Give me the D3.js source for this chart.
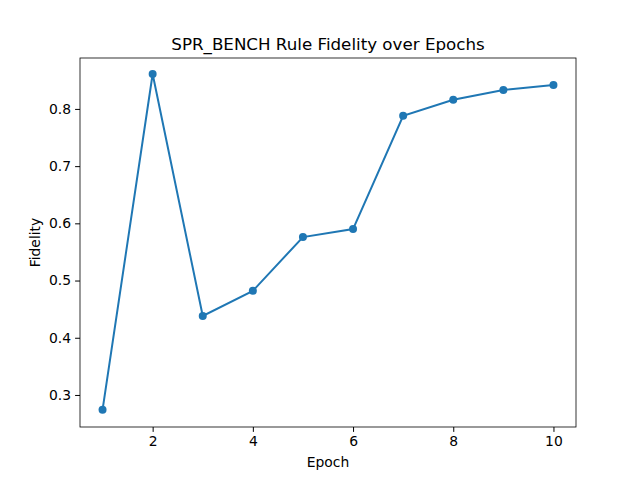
<!DOCTYPE html>
<html>
<head>
<meta charset="utf-8">
<script src="https://cdn.jsdelivr.net/npm/d3@7"></script>
<style>
  body { margin: 0; background: #fff; }
  text { font-family: "DejaVu Sans", sans-serif; }
</style>
</head>
<body>
<svg id="chart" width="640" height="480"></svg>
<script>
const epochs = [1, 2, 3, 4, 5, 6, 7, 8, 9, 10];
const fidelity = [0.274, 0.861, 0.438, 0.482, 0.576, 0.590, 0.788, 0.816, 0.833, 0.842];
const xTicks = [2, 4, 6, 8, 10];
const yTicks = [0.3, 0.4, 0.5, 0.6, 0.7, 0.8];

const margin = { top: 58, right: 64, bottom: 53, left: 80 };
const width = 640 - margin.left - margin.right;
const height = 480 - margin.top - margin.bottom;
const color = '#1f77b4';

const svg = d3.select('#chart');
const g = svg.append('g').attr('transform', `translate(${margin.left},${margin.top})`);

const x = d3.scaleLinear().domain([0.55, 10.45]).range([0, width]);
const y = d3.scaleLinear().domain([0.244, 0.889]).range([height, 0]);

// axes
const xAxis = g.append('g')
  .attr('transform', `translate(0,${height})`)
  .call(d3.axisBottom(x).tickValues(xTicks).tickFormat(d3.format('d')).tickSizeOuter(0).tickSize(4.9).tickPadding(4));
const yAxis = g.append('g')
  .call(d3.axisLeft(y).tickValues(yTicks).tickFormat(d3.format('.1f')).tickSizeOuter(0).tickSize(4.9).tickPadding(4));
[xAxis, yAxis].forEach((a) => {
  a.select('.domain').remove();
  a.selectAll('text').attr('font-size', 13.9).attr('fill', '#000').style('font-family', 'DejaVu Sans');
  a.selectAll('line').attr('stroke', '#000');
});

// frame
g.append('rect')
  .attr('width', width).attr('height', height)
  .attr('fill', 'none').attr('stroke', '#000').attr('stroke-width', 0.8);

// line + markers
const line = d3.line().x((d, i) => x(epochs[i])).y((d) => y(d));
g.append('path')
  .datum(fidelity)
  .attr('d', line)
  .attr('fill', 'none')
  .attr('stroke', color)
  .attr('stroke-width', 2);

g.selectAll('circle.pt')
  .data(fidelity)
  .enter().append('circle')
  .attr('class', 'pt')
  .attr('cx', (d, i) => x(epochs[i]))
  .attr('cy', (d) => y(d))
  .attr('r', 4)
  .attr('fill', color);

// labels
svg.append('text')
  .attr('x', margin.left + width / 2).attr('y', 50)
  .attr('text-anchor', 'middle').attr('font-size', 16.7)
  .text('SPR_BENCH Rule Fidelity over Epochs');
svg.append('text')
  .attr('x', margin.left + width / 2).attr('y', 467)
  .attr('text-anchor', 'middle').attr('font-size', 13.9)
  .text('Epoch');
svg.append('text')
  .attr('transform', `translate(40,${margin.top + height / 2}) rotate(-90)`)
  .attr('text-anchor', 'middle').attr('font-size', 13.9)
  .text('Fidelity');
</script>
</body>
</html>
